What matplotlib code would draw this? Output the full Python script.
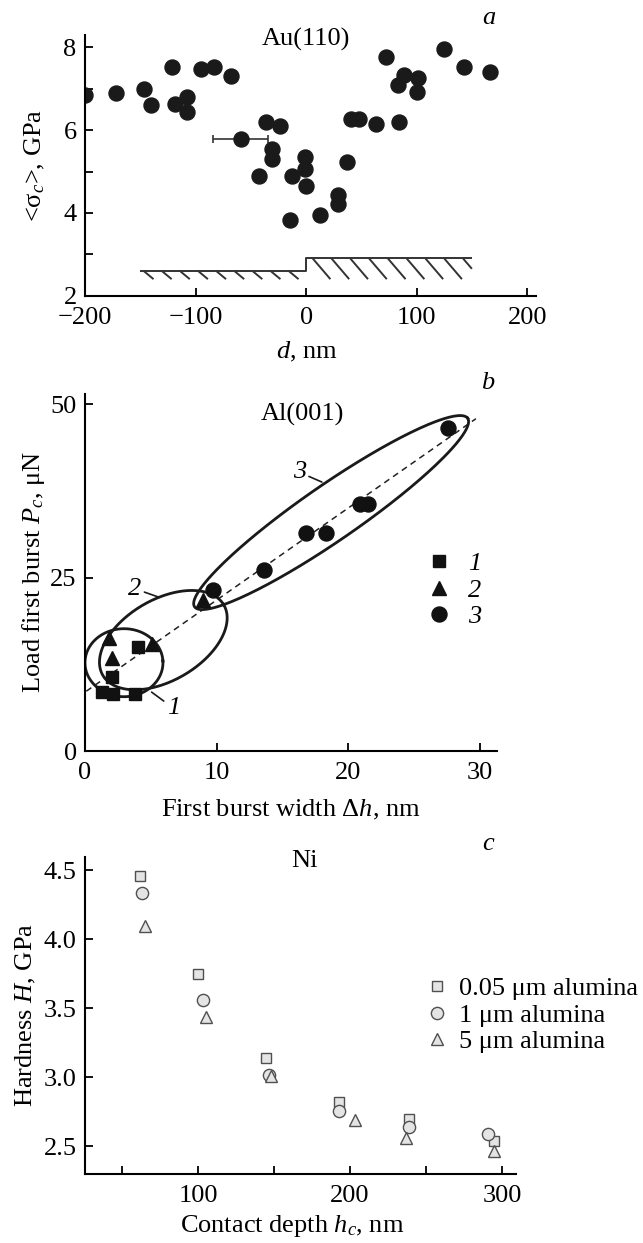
import numpy as np
import matplotlib
matplotlib.use('Agg')
import matplotlib.pyplot as plt
from matplotlib.ticker import FixedLocator, FuncFormatter

plt.rcParams['font.family'] = ['Liberation Serif', 'DejaVu Serif']
plt.rcParams['mathtext.fontset'] = 'custom'
plt.rcParams['mathtext.rm'] = 'Liberation Serif'
plt.rcParams['mathtext.it'] = 'Liberation Serif:italic'
plt.rcParams['mathtext.bf'] = 'Liberation Serif:bold'
plt.rcParams['axes.unicode_minus'] = True

FS = 19

# ---- (a) Au(110): mean critical stress vs distance to step ----
au_d = [-200, -172, -147, -140, -121, -119, -107.5, -107.5, -95, -83, -68,
        -59, -36, -24, -31, -31, -43, -13, -15, -0.6, -0.6, 0.2, 13, 29, 29,
        37, 41, 48, 63, 72, 84, 83, 89, 101, 100, 125, 143, 166]
au_sigma = [6.85, 6.90, 7.00, 6.62, 7.52, 6.63, 6.81, 6.43, 7.48, 7.52, 7.31,
            5.78, 6.20, 6.09, 5.55, 5.31, 4.90, 4.90, 3.83, 5.35, 5.06, 4.66,
            3.94, 4.43, 4.21, 5.24, 6.27, 6.27, 6.15, 7.76, 6.20, 7.10, 7.34,
            7.26, 6.93, 7.97, 7.52, 7.40]
au_xerr = [0] * 11 + [25] + [0] * 26

# ---- (b) Al(001): first burst load vs burst width ----
sq_dh = [1.27, 2.15, 3.8, 2.03, 4.05]
sq_pc = [8.56, 8.2, 8.2, 10.7, 15.05]
tri_dh = [1.85, 2.05, 5.1, 8.95]
tri_pc = [16.3, 13.4, 15.5, 21.8]
cir_dh = [9.74, 13.6, 16.8, 18.3, 20.9, 21.5, 27.6]
cir_pc = [23.3, 26.1, 31.5, 31.5, 35.7, 35.6, 46.6]
b_labels = ['1', '2', '3']

# ---- (c) Ni: hardness vs contact depth for three polishes ----
ni_labels = ['0.05 μm alumina', '1 μm alumina', '5 μm alumina']
h_005 = [62, 100, 145, 193, 239, 295]
H_005 = [4.46, 3.75, 3.14, 2.82, 2.70, 2.54]
h_1 = [63, 103, 147, 193, 239, 291]
H_1 = [4.34, 3.56, 3.02, 2.76, 2.64, 2.59]
h_5 = [65, 105, 148, 203, 237, 295]
H_5 = [4.10, 3.44, 3.01, 2.69, 2.56, 2.47]


def style_axes(ax):
    for s in ['top', 'right']:
        ax.spines[s].set_visible(False)
    for s in ['left', 'bottom']:
        ax.spines[s].set_linewidth(1.5)
    ax.tick_params(direction='in', length=6, width=1.3, labelsize=FS)
    ax.tick_params(axis='x', pad=8)
    ax.tick_params(axis='y', pad=6)


def ellipse(cx, cy, a, b):
    t = np.linspace(0, 2 * np.pi, 300)
    return (cx + a[0] * np.cos(t) + b[0] * np.sin(t),
            cy + a[1] * np.cos(t) + b[1] * np.sin(t))


fig = plt.figure(figsize=(6.43, 12.43), dpi=100)

# ================= panel a =================
ax = fig.add_axes([0.1322, 0.7621, 0.7014, 0.2097])
style_axes(ax)
d = np.array(au_d)
s = np.array(au_sigma)
xe = np.array(au_xerr)
m = xe > 0
ax.errorbar(d[m], s[m], xerr=xe[m], fmt='none', ecolor='#333333',
            elinewidth=1.2, capsize=3, capthick=1.2)
ax.plot(d, s, 'o', color='#1a1a1a', ms=10.8, mec='#1a1a1a')

# stepped surface with hatching
lk = dict(color='#333333', lw=1.4, solid_capstyle='butt')
ax.plot([-150, 0, 0, 150], [2.6, 2.6, 2.9, 2.9], **lk)
for x0 in np.arange(-147, -5, 16.4):
    ax.plot([x0, x0 + 9], [2.6, 2.4], **lk)
for x0 in np.arange(6, 148, 17):
    x1 = min(x0 + 16, 150)
    ax.plot([x0, x1], [2.9, 2.9 - 0.5 * (x1 - x0) / 16], **lk)

ax.set_xlim(-200, 208)
ax.set_ylim(2, 8.3)
ax.xaxis.set_major_locator(FixedLocator([-200, -100, 0, 100, 200]))
ax.yaxis.set_major_locator(FixedLocator([2, 3, 4, 5, 6, 7, 8]))
ax.yaxis.set_major_formatter(FuncFormatter(
    lambda v, p: '%d' % v if int(round(v)) % 2 == 0 else ''))
ax.set_xlabel('$d$, nm', fontsize=FS, va='center')
ax.xaxis.set_label_coords(0.492, -0.215)
ax.set_ylabel('<σ$_c$>, GPa', fontsize=FS, va='center')
ax.yaxis.set_label_coords(-0.111, 0.5)
ax.text(0, 8.19, 'Au(110)', fontsize=FS, ha='center', va='center')
ax.text(165.6, 8.72, 'a', fontsize=FS, style='italic', ha='center',
        va='center', clip_on=False)

# ================= panel b =================
ax = fig.add_axes([0.1322, 0.3958, 0.6407, 0.2872])
style_axes(ax)
all_x = np.concatenate([sq_dh, tri_dh, cir_dh])
all_y = np.concatenate([sq_pc, tri_pc, cir_pc])
k, c0 = np.polyfit(all_x, all_y, 1)
xl = np.array([0.1, 29.7])
ax.plot(xl, k * xl + c0, '--', color='#222222', lw=1.1, dashes=(4, 3))

ek = dict(color='#1a1a1a', lw=2.0)
ax.plot(*ellipse(18.7, 34.4, (10.375, 13.6), (1.2, -3.3)), **ek)
ax.plot(*ellipse(5.95, 16.0, (4.58, 5.13), (1.6, -5.0)), **ek)
ax.plot(*ellipse(2.96, 12.74, (2.96, 0.25), (-0.15, 4.9)), **ek)

ax.plot(sq_dh, sq_pc, 's', color='#111111', ms=8.4, label=b_labels[0])
ax.plot(tri_dh, tri_pc, '^', color='#111111', ms=9.5, label=b_labels[1])
ax.plot(cir_dh, cir_pc, 'o', color='#111111', ms=10.8, label=b_labels[2])

ak = dict(arrowprops=dict(arrowstyle='-', color='#1a1a1a', lw=1.2,
                          shrinkA=0, shrinkB=0),
          fontsize=FS, style='italic', ha='center', va='center')
ax.annotate(b_labels[2], xy=(18.0, 38.8), xytext=(16.3, 40.2), **ak)
ax.annotate(b_labels[1], xy=(5.6, 22.2), xytext=(3.8, 23.4), **ak)
ax.annotate(b_labels[0], xy=(5.06, 8.5), xytext=(6.7, 6.2), **ak)

leg = ax.legend(loc='center left', bbox_to_anchor=(0.84, 0.451),
                frameon=False, fontsize=FS, handlelength=0.6,
                handletextpad=0.8, labelspacing=0.12, borderpad=0,
                borderaxespad=0)
for t in leg.get_texts():
    t.set_style('italic')

ax.set_xlim(0, 31.3)
ax.set_ylim(0, 51.5)
ax.xaxis.set_major_locator(FixedLocator([0, 10, 20, 30]))
ax.yaxis.set_major_locator(FixedLocator([0, 25, 50]))
ax.set_xlabel('First burst width Δ$h$, nm', fontsize=FS, va='center')
ax.xaxis.set_label_coords(0.5, -0.165)
ax.set_ylabel('Load first burst $P_c$, μN', fontsize=FS, va='center')
ax.yaxis.set_label_coords(-0.126, 0.5)
ax.text(16.55, 48.5, 'Al(001)', fontsize=FS, ha='center', va='center')
ax.text(30.6, 53.1, 'b', fontsize=FS, style='italic', ha='center',
        va='center', clip_on=False)

# ================= panel c =================
ax = fig.add_axes([0.1322, 0.0555, 0.6697, 0.2553])
style_axes(ax)
mk = dict(mfc='#e4e4e4', mec='#505050', mew=1.0, ls='none')
ax.plot(h_005, H_005, 's', ms=7.0, label=ni_labels[0], **mk)
ax.plot(h_1, H_1, 'o', ms=8.8, label=ni_labels[1], **mk)
ax.plot(h_5, H_5, '^', ms=8.5, label=ni_labels[2], **mk)
ax.legend(loc='center left', bbox_to_anchor=(0.80, 0.501), frameon=False,
          fontsize=FS, handlelength=0.6, handletextpad=0.5,
          labelspacing=0.12, borderpad=0, borderaxespad=0)

ax.set_xlim(25.7, 309)
ax.set_ylim(2.3, 4.6)
ax.xaxis.set_major_locator(FixedLocator([50, 100, 150, 200, 250, 300]))
ax.xaxis.set_major_formatter(FuncFormatter(
    lambda v, p: '%d' % v if int(round(v)) % 100 == 0 else ''))
ax.yaxis.set_major_locator(FixedLocator([2.5, 3.0, 3.5, 4.0, 4.5]))
ax.yaxis.set_major_formatter(FuncFormatter(lambda v, p: '%.1f' % v))
ax.set_xlabel('Contact depth $h_c$, nm', fontsize=FS, va='center')
ax.xaxis.set_label_coords(0.48, -0.164)
ax.set_ylabel('Hardness $H$, GPa', fontsize=FS, va='center')
ax.yaxis.set_label_coords(-0.136, 0.5)
ax.text(170.4, 4.57, 'Ni', fontsize=FS, ha='center', va='center')
ax.text(290.8, 4.695, 'c', fontsize=FS, style='italic', ha='center',
        va='center', clip_on=False)

fig.savefig('out.png', dpi=100)
